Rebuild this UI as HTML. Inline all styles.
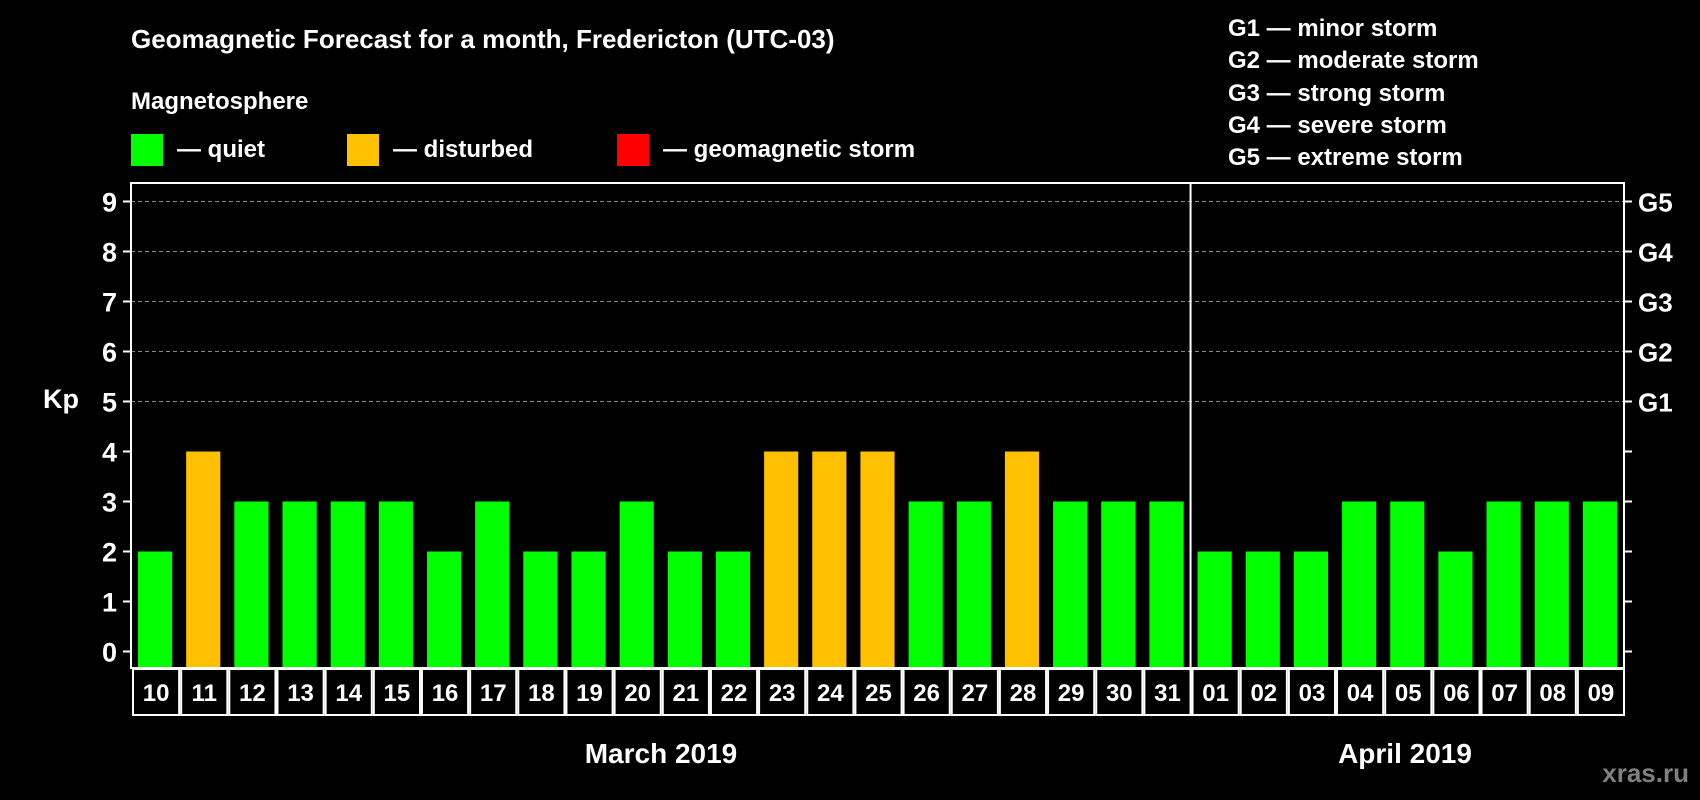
<!DOCTYPE html>
<html><head><meta charset="utf-8"><style>
html,body{margin:0;padding:0;background:#000;width:1700px;height:800px;overflow:hidden}
svg{display:block;font-family:"Liberation Sans",Arial,sans-serif;font-weight:bold}
</style></head><body>
<svg id="chart" width="1700" height="800" viewBox="0 0 1700 800" xmlns="http://www.w3.org/2000/svg">
<rect width="1700" height="800" fill="#000"/>
<text x="131" y="48" fill="#fff" font-size="26">Geomagnetic Forecast for a month, Fredericton (UTC-03)</text>
<text x="131" y="109" fill="#fff" font-size="24">Magnetosphere</text>
<g><rect x="131" y="134" width="32" height="32" fill="#00ff00"/><text x="177" y="157" fill="#fff" font-size="24">— quiet</text></g>
<g><rect x="347" y="134" width="32" height="32" fill="#ffc000"/><text x="393" y="157" fill="#fff" font-size="24">— disturbed</text></g>
<g><rect x="617" y="134" width="32" height="32" fill="#ff0000"/><text x="663" y="157" fill="#fff" font-size="24">— geomagnetic storm</text></g>
<g fill="#fff" font-size="24">
<text x="1228" y="36">G1 — minor storm</text>
<text x="1228" y="68">G2 — moderate storm</text>
<text x="1228" y="101">G3 — strong storm</text>
<text x="1228" y="133">G4 — severe storm</text>
<text x="1228" y="165">G5 — extreme storm</text>
</g>
<text x="43" y="408" fill="#fff" font-size="27">Kp</text>
<g id="grid"></g><g id="bars"></g><g id="axes"></g>
<text x="661" y="763" text-anchor="middle" fill="#fff" font-size="28">March 2019</text>
<text x="1405" y="763" text-anchor="middle" fill="#fff" font-size="28">April 2019</text>
<text x="1689" y="782" text-anchor="end" fill="#808080" font-size="26">xras.ru</text>
</svg>
<script>
const days = ["10","11","12","13","14","15","16","17","18","19","20","21","22","23","24","25","26","27","28","29","30","31","01","02","03","04","05","06","07","08","09"];
const kpValues = [2,4,3,3,3,3,2,3,2,2,3,2,2,4,4,4,3,3,4,3,3,3,2,2,2,3,3,2,3,3,3];
const yTicks = [0,1,2,3,4,5,6,7,8,9];
const gLabels = ["","","","","","G1","G2","G3","G4","G5"];
const monthBreakIndex = 22;

const NS="http://www.w3.org/2000/svg";
const L=131,R=1624,T=183,B=668;
const y0=651.5,unit=50;
const slot=(R-L)/days.length;
const yScale=v=>y0-v*unit;
const xScale=i=>L+i*slot;
function mk(tag,attrs,parent){const e=document.createElementNS(NS,tag);for(const k in attrs)e.setAttribute(k,attrs[k]);parent.appendChild(e);return e;}
const grid=document.getElementById('grid'),bars=document.getElementById('bars'),axes=document.getElementById('axes');
yTicks.forEach((t,i)=>{
  const y=yScale(t);
  if(t>=5){const g=mk('line',{x1:L,x2:R,y1:y,y2:y,stroke:'#888','stroke-dasharray':'4,3','stroke-width':1},grid);
  
  }
  mk('line',{x1:L-8,x2:L,y1:y,y2:y,stroke:'#fff','stroke-width':2},axes);
  mk('line',{x1:R,x2:R+8,y1:y,y2:y,stroke:'#fff','stroke-width':2},axes);
  const lt=mk('text',{x:L-14,y:y+10,'text-anchor':'end',fill:'#fff','font-size':27},axes);
  lt.textContent=t;
  
  
  if(gLabels[i]){const rt=mk('text',{x:R+14,y:y+10,fill:'#fff','font-size':26},axes);rt.textContent=gLabels[i];
  
  }
});
kpValues.forEach((v,i)=>{
  const x=xScale(i);
  const b=mk('rect',{x:x+7,y:yScale(v),width:slot-14,height:B-yScale(v),fill:v>=5?'#ff0000':(v>=4?'#ffc000':'#00ff00')},bars);
  
  
  const box=mk('rect',{x:x+2,y:B+1,width:slot-2,height:46,fill:'none',stroke:'#fff','stroke-width':2},axes);
  
  
  const t=mk('text',{x:x+slot/2+1,y:B+33,'text-anchor':'middle',fill:'#fff','font-size':24},axes);
  t.textContent=days[i];
  
  
});
const frame=mk('rect',{x:L,y:T,width:R-L,height:B-T,fill:'none',stroke:'#fff','stroke-width':2},axes);


const mx=xScale(monthBreakIndex);
const div=mk('line',{x1:mx,x2:mx,y1:T,y2:B,stroke:'#fff','stroke-width':2},axes);


</script>
</body></html>
